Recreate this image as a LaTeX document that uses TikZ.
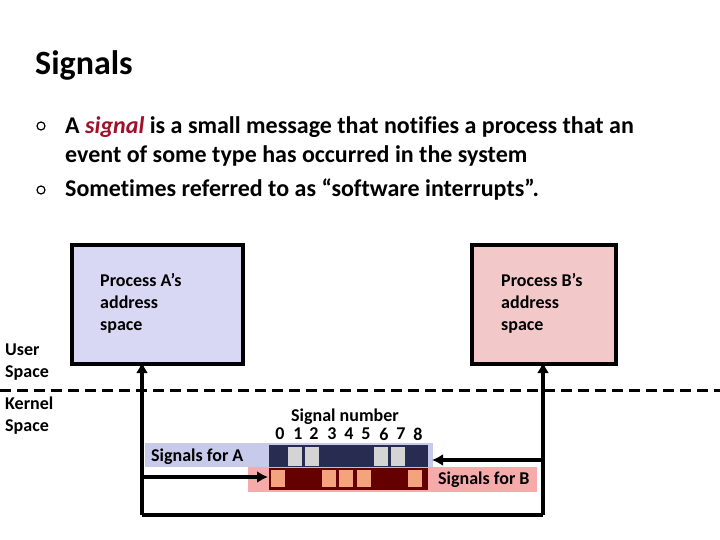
\documentclass[tikz,border=0pt]{standalone}
\usepackage{fontspec}
\setmainfont[Ligatures={NoCommon}]{Carlito}
\usetikzlibrary{arrows.meta}
\begin{document}
\begin{tikzpicture}[x=1pt,y=-1pt,
  txt/.style={font=\bfseries\fontsize{18}{22}\selectfont,anchor=west,inner sep=0pt,align=left},
  big/.style={font=\bfseries\fontsize{24}{29}\selectfont,anchor=west,inner sep=0pt,align=left},
  pbox/.style={draw=black,line width=3.5pt},
  conn/.style={line width=3.5pt},
  arr/.style={conn,-{Latex[length=11pt,width=12pt]}}]
\useasboundingbox (0,0) rectangle (720,540);
\definecolor{pa}{RGB}{216,216,244}
\definecolor{pb}{RGB}{242,200,200}
\definecolor{lb}{RGB}{200,202,236}
\definecolor{lp}{RGB}{246,170,170}
\definecolor{navy}{RGB}{40,44,80}
\definecolor{dred}{RGB}{100,0,0}
\definecolor{cell}{RGB}{212,212,212}
\definecolor{orng}{RGB}{244,164,124}
\definecolor{sig}{RGB}{160,16,40}
\node[font=\bfseries\fontsize{34}{38}\selectfont,anchor=west,inner sep=0pt] (title) at (35,65) {Signals};
\draw[line width=1.2pt] (41,126) circle (4);
\draw[line width=1.2pt] (41,190) circle (4);
\node[big,anchor=base west] (b1) at (65,163) {A \textcolor{sig}{\itshape signal} is a small message that notifies a process that an\\event of some type has occurred in the system};
\node[big] (b2) at (65,190) {Sometimes referred to as “software interrupts”.};
\node[pbox,fill=pa,minimum width=171,minimum height=119,anchor=north west,inner sep=0] (A) at (70,243) {};
\node[pbox,fill=pb,minimum width=144,minimum height=119,anchor=north west,inner sep=0] (B) at (470,243) {};
\node[txt,anchor=north west] (At) at (100,273) {Process A’s\\address\\space};
\node[txt,anchor=north west] (Bt) at (501,273) {Process B’s\\address\\space};
\node[txt,anchor=north west] (us) at (5,344) {User\\Space};
\node[txt,anchor=north west] (ks) at (5,397) {Kernel\\Space};
\draw[line width=3pt,dash pattern=on 11pt off 6pt] (0,390) coordinate (d1) -- (720,390) coordinate (d2);
\fill[lb] (145,443) rectangle (433,467);
\fill[lp] (248,467) rectangle (537,492);
\fill[navy] (269,445) rectangle (428,467);
\fill[dred] (269,468) rectangle (428,490);
\foreach \i in {1,2,6,7} \fill[cell] ({271+17.1*\i},447) rectangle ({285+17.1*\i},466);
\foreach \i in {0,3,4,5,8} \fill[orng] ({271+17.1*\i},470) rectangle ({285+17.1*\i},487);
\node[txt] (sa) at (151,457) {Signals for A};
\node[txt] (sb) at (438,480) {Signals for B};
\node[txt,anchor=center] (sn) at (345,417) {Signal number};
\foreach \i/\xx in {0/280,1/298,2/314,3/332,4/349,5/366,6/384,7/401,8/418} \node[txt,anchor=center] (n\i) at (\xx,434) {\i};
\coordinate (bl) at (142,515);
\coordinate (br) at (543,515);
\coordinate (la) at (142,362);
\coordinate (lb2) at (543,362);
\draw[conn] (bl) -- (br);
\draw[arr] (bl) -- (la);
\draw[arr] (br) -- (lb2);
\draw[arr] (142,477) -- (268,477);
\draw[arr] (543,460) -- (432,460);
\end{tikzpicture}
\end{document}
